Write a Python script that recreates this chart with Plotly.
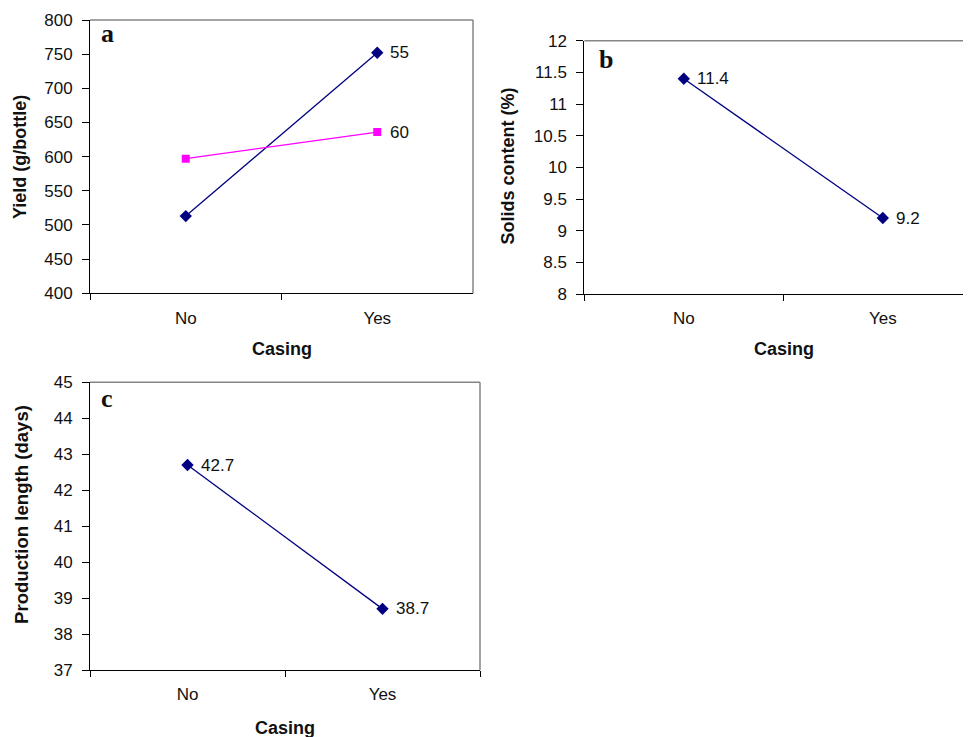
import plotly.graph_objects as go

# ---- data ----
categories = ["No", "Yes"]
yield_55 = [513, 752]
yield_60 = [597, 636]
series_labels_a = ["55", "60"]
solids = [11.4, 9.2]
production = [42.7, 38.7]

yield_ticks = [400, 450, 500, 550, 600, 650, 700, 750, 800]
solids_ticks = [8, 8.5, 9, 9.5, 10, 10.5, 11, 11.5, 12]
prod_ticks = [37, 38, 39, 40, 41, 42, 43, 44, 45]

# page body has an 8px margin; work in screen pixels and convert
OFF = 8
W, H = 971 - OFF, 737 - OFF
NAVY = "#000080"
PINK = "#FF00FF"
FONT = "Liberation Sans, Arial, sans-serif"

def px_x(p):
    return (p - OFF) / W

def px_y(p):
    return 1 - (p - OFF) / H

fig = go.Figure()

# panel a
fig.add_trace(go.Scatter(x=categories, y=yield_55, mode="lines+markers",
                         line=dict(color=NAVY, width=1.3),
                         marker=dict(symbol="diamond", size=9.5, color=NAVY),
                         xaxis="x", yaxis="y", showlegend=False))
fig.add_trace(go.Scatter(x=categories, y=yield_60, mode="lines+markers",
                         line=dict(color=PINK, width=1.3),
                         marker=dict(symbol="square", size=8, color=PINK),
                         xaxis="x", yaxis="y", showlegend=False))
# panel b
fig.add_trace(go.Scatter(x=categories, y=solids, mode="lines+markers",
                         line=dict(color=NAVY, width=1.3),
                         marker=dict(symbol="diamond", size=9.5, color=NAVY),
                         xaxis="x2", yaxis="y2", showlegend=False))
# panel c
fig.add_trace(go.Scatter(x=categories, y=production, mode="lines+markers",
                         line=dict(color=NAVY, width=1.3),
                         marker=dict(symbol="diamond", size=9.5, color=NAVY),
                         xaxis="x3", yaxis="y3", showlegend=False))

tickfont = dict(family=FONT, size=17, color="#111")

def xaxis_cfg(domain, rng, anchor):
    return dict(domain=domain, anchor=anchor, type="category", range=rng,
                tickson="boundaries", ticks="outside", ticklen=6, tickcolor="black",
                showline=True, linecolor="black", linewidth=1, showgrid=False,
                zeroline=False, tickfont=tickfont, automargin=False,
                ticklabelstandoff=9)

def yaxis_cfg(domain, rng, tv, anchor):
    return dict(domain=domain, anchor=anchor, range=rng, tickvals=tv,
                ticks="outside", ticklen=7, tickcolor="black",
                showline=True, linecolor="black", linewidth=1, showgrid=False,
                zeroline=False, tickfont=tickfont, automargin=False,
                ticklabelstandoff=6)

b_right = -0.5 + 2 * (971 - 584.3) / (982.3 - 584.3)

fig.update_layout(
    width=W, height=H, margin=dict(l=0, r=0, t=0, b=0),
    paper_bgcolor="white", plot_bgcolor="white",
    font=dict(family=FONT, color="#111"),
    xaxis=xaxis_cfg([px_x(90), px_x(473)], [-0.5, 1.5], "y"),
    yaxis=yaxis_cfg([px_y(293.3), px_y(20)], [400, 800], yield_ticks, "x"),
    xaxis2=xaxis_cfg([px_x(584.3), 1.0], [-0.5, b_right], "y2"),
    yaxis2=yaxis_cfg([px_y(294), px_y(40.7)], [8, 12], solids_ticks, "x2"),
    xaxis3=xaxis_cfg([px_x(90), px_x(480)], [-0.5, 1.5], "y3"),
    yaxis3=yaxis_cfg([px_y(670), px_y(382.3)], [37, 45], prod_ticks, "x3"),
)

# gray top/right borders
GRAY = "#858585"
for xr, yr, right in [("x", "y", True), ("x2", "y2", False), ("x3", "y3", True)]:
    fig.add_shape(type="line", xref=f"{xr} domain", yref=f"{yr} domain",
                  x0=0, x1=1, y0=1, y1=1, line=dict(color=GRAY, width=1.5))
    if right:
        fig.add_shape(type="line", xref=f"{xr} domain", yref=f"{yr} domain",
                      x0=1, x1=1, y0=0, y1=1, line=dict(color=GRAY, width=1.5))

# axis titles
def title_font(size):
    return dict(family=FONT, size=size, color="#111", weight="bold")

for txt, x, y, ang, sz in [
    ("Yield (g/bottle)", 20, 157, -90, 18),
    ("Casing", 282, 349, 0, 18),
    ("Solids content (%)", 507.5, 166, -90, 18),
    ("Casing", 783.5, 349, 0, 18),
    ("Production length (days)", 21, 515, -90, 18.6),
    ("Casing", 285, 727.5, 0, 18),
]:
    fig.add_annotation(x=px_x(x), y=px_y(y), xref="paper", yref="paper", text=txt,
                       textangle=ang, showarrow=False, xanchor="center", yanchor="middle",
                       font=title_font(sz))

# data labels
lab_font = dict(family=FONT, size=17, color="#111")
fig.add_annotation(x=categories[1], y=yield_55[1], xref="x", yref="y", text=series_labels_a[0],
                   showarrow=False, xanchor="left", xshift=11, font=lab_font)
fig.add_annotation(x=categories[1], y=yield_60[1], xref="x", yref="y", text=series_labels_a[1],
                   showarrow=False, xanchor="left", xshift=11, font=lab_font)
for i, c in enumerate(categories):
    fig.add_annotation(x=c, y=solids[i], xref="x2", yref="y2", text=f"{solids[i]}",
                       showarrow=False, xanchor="left", xshift=11, font=lab_font)
    fig.add_annotation(x=c, y=production[i], xref="x3", yref="y3", text=f"{production[i]}",
                       showarrow=False, xanchor="left", xshift=11, font=lab_font)

# panel letters
letter_font = dict(family="Liberation Serif, Times New Roman, serif", size=26, color="#111", weight="bold")
for txt, x, y in [("a", 99, 33), ("b", 597, 60), ("c", 99, 398)]:
    fig.add_annotation(x=px_x(x), y=px_y(y), xref="paper", yref="paper", text=txt,
                       showarrow=False, xanchor="left", yanchor="middle", font=letter_font)

fig.write_html("out.html")
